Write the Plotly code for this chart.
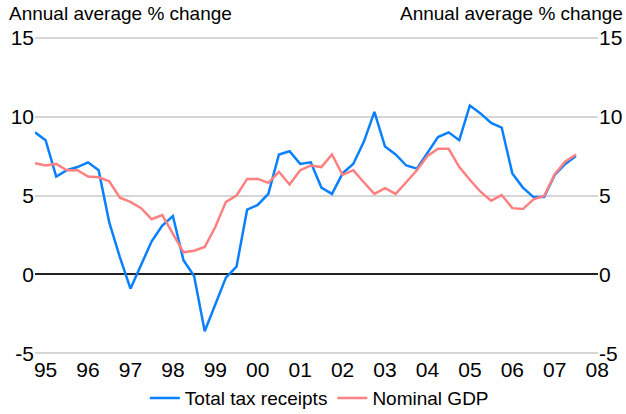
import plotly.graph_objects as go

# Quarterly observations, first point 1994 Q4, last 2007 Q3
quarters = [1994.75 + 0.25 * k for k in range(52)]

total_tax_receipts = [9.0, 8.5, 6.2, 6.6, 6.8, 7.1, 6.6, 3.3, 1.1, -0.9, 0.6, 2.1, 3.1, 3.7,
                      0.9, -0.1, -3.6, -1.9, -0.2, 0.5, 4.1, 4.4, 5.1, 7.6, 7.8, 7.0, 7.1, 5.5,
                      5.1, 6.4, 7.0, 8.4, 10.3, 8.1, 7.6, 6.9, 6.7, 7.7, 8.7, 9.0, 8.5, 10.7,
                      10.2, 9.6, 9.3, 6.4, 5.5, 4.9, 4.9, 6.3, 7.0, 7.5]
nominal_gdp = [7.05, 6.9, 7.0, 6.6, 6.6, 6.2, 6.15, 5.9, 4.86, 4.6, 4.2, 3.5, 3.76, 2.6,
               1.4, 1.5, 1.74, 3.0, 4.6, 5.0, 6.05, 6.05, 5.8, 6.5, 5.7, 6.6, 6.9, 6.8,
               7.6, 6.3, 6.6, 5.84, 5.1, 5.46, 5.1, 5.84, 6.6, 7.5, 7.96, 7.96, 6.8, 6.0,
               5.24, 4.67, 5.03, 4.2, 4.14, 4.76, 4.97, 6.35, 7.15, 7.6]

year_ticks = list(range(1995, 2009))
year_labels = ["95", "96", "97", "98", "99", "00", "01", "02", "03", "04", "05", "06", "07", "08"]
y_ticks = [-5, 0, 5, 10, 15]
y_labels = ["-5", "0", "5", "10", "15"]

FONT = "Liberation Sans, Arial, sans-serif"
Y_RANGE = [-5.1, 15.1]

fig = go.Figure()
fig.add_trace(go.Scatter(x=quarters, y=total_tax_receipts, mode="lines",
                         name="Total tax receipts",
                         line=dict(color="#0a80ff", width=2.5)))
fig.add_trace(go.Scatter(x=quarters, y=nominal_gdp, mode="lines",
                         name="Nominal GDP",
                         line=dict(color="#ff8080", width=2.5)))
# invisible companion so the right-hand axis is drawn
fig.add_trace(go.Scatter(x=quarters, y=nominal_gdp, mode="lines", yaxis="y2",
                         showlegend=False, hoverinfo="skip",
                         line=dict(color="rgba(0,0,0,0)", width=0)))

fig.update_layout(
    width=626, height=414,
    margin=dict(l=35, r=28, t=36, b=59, autoexpand=False),
    paper_bgcolor="white", plot_bgcolor="white",
    font=dict(family=FONT, color="black"),
    showlegend=True,
    legend=dict(orientation="h", x=0.505, xanchor="center", y=-0.135, yanchor="middle",
                font=dict(size=19, family=FONT), bgcolor="rgba(0,0,0,0)",
                itemwidth=30, tracegroupgap=0),
    xaxis=dict(range=[1994.75, 2008.02], tickvals=year_ticks, ticktext=year_labels,
               showgrid=False, zeroline=False, showline=False, ticks="", automargin=False,
               tickfont=dict(size=21, family=FONT)),
    yaxis=dict(range=Y_RANGE, tickvals=y_ticks, ticktext=y_labels, showgrid=True,
               gridcolor="#d6d6d6", gridwidth=2, zeroline=True, zerolinecolor="#222222",
               zerolinewidth=1.5, showline=False, ticks="", automargin=False,
               tickfont=dict(size=21, family=FONT)),
    yaxis2=dict(range=Y_RANGE, tickvals=y_ticks, ticktext=y_labels, overlaying="y",
                side="right", showgrid=False, zeroline=False, showline=False, ticks="",
                automargin=False, tickfont=dict(size=21, family=FONT)),
    annotations=[
        dict(text="Annual average % change", xref="paper", yref="paper",
             x=-0.05, y=1.07, xanchor="left", yanchor="middle", showarrow=False,
             font=dict(size=19, family=FONT)),
        dict(text="Annual average % change", xref="paper", yref="paper",
             x=1.048, y=1.07, xanchor="right", yanchor="middle", showarrow=False,
             font=dict(size=19, family=FONT)),
    ],
)

fig.write_html("out.html", config={"displayModeBar": False},
               post_script="document.body.style.margin='0px';document.body.style.overflow='hidden';")
